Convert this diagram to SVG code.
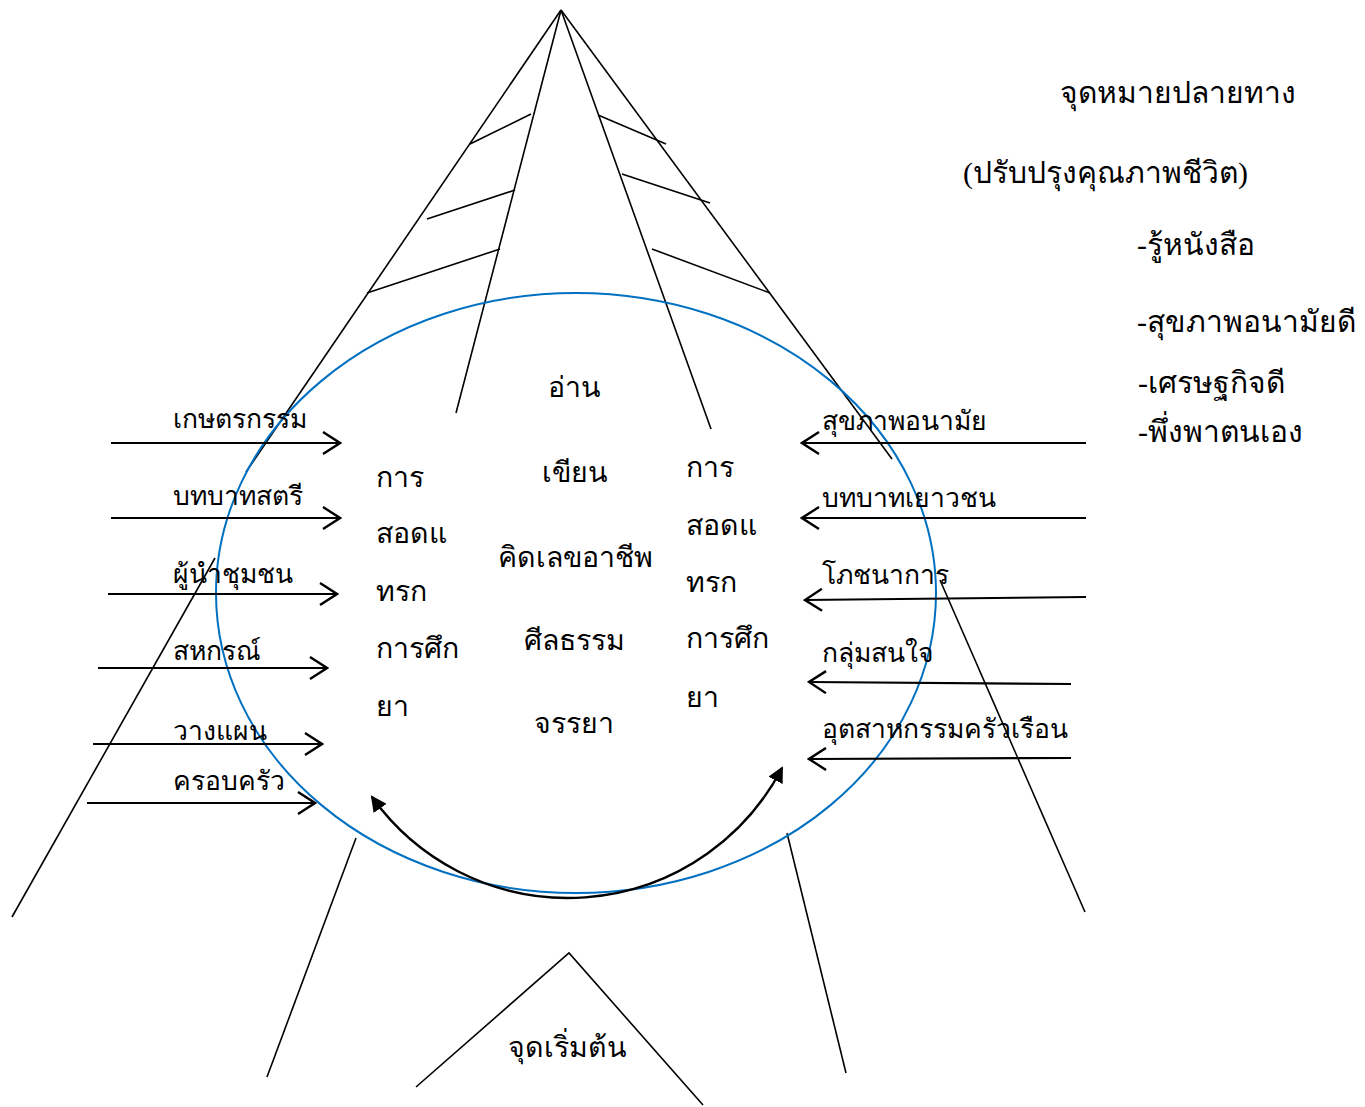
<svg xmlns="http://www.w3.org/2000/svg" width="1365" height="1107" viewBox="0 0 1365 1107">
<style>
.ln{stroke:#000;stroke-width:1.6;fill:none}
.ar{stroke:#000;stroke-width:2.2;fill:none;marker-end:url(#open)}
.t{font-family:"Liberation Serif","Noto Sans",serif;font-size:28.5px;fill:#000}
.lb{font-size:26.5px}
.g{font-size:30px}
.c{text-anchor:middle}
</style>
<defs>
<marker id="open" viewBox="0 0 20 24" refX="18" refY="12" markerWidth="20" markerHeight="24" markerUnits="userSpaceOnUse" orient="auto">
<path d="M1 1 L18 12 L1 23" fill="none" stroke="#000" stroke-width="2.4"/>
</marker>
<marker id="solid" viewBox="0 0 16 16" refX="14" refY="8" markerWidth="16" markerHeight="16" markerUnits="userSpaceOnUse" orient="auto-start-reverse">
<path d="M0 0 L16 8 L0 16 Z" fill="#000"/>
</marker>
</defs>
<rect width="1365" height="1107" fill="#fff"/>
<g id="structure">
<line class="ln" x1="561" y1="10" x2="246" y2="472"/>
<line class="ln" x1="215" y1="558" x2="12" y2="917"/>
<line class="ln" x1="561" y1="10" x2="892" y2="459"/>
<line class="ln" x1="940" y1="580" x2="1085" y2="912"/>
<line class="ln" x1="561" y1="10" x2="456" y2="413"/>
<line class="ln" x1="561" y1="10" x2="711" y2="429"/>
<line class="ln" x1="470" y1="144" x2="531" y2="114"/>
<line class="ln" x1="427" y1="219" x2="515" y2="190"/>
<line class="ln" x1="367" y1="293" x2="500" y2="249"/>
<line class="ln" x1="598" y1="115" x2="666" y2="144"/>
<line class="ln" x1="622" y1="174" x2="710" y2="203"/>
<line class="ln" x1="652" y1="249" x2="770" y2="293"/>
<line class="ln" x1="356" y1="838" x2="267" y2="1077"/>
<line class="ln" x1="787" y1="833" x2="846" y2="1073"/>
<polyline class="ln" points="416,1087 569,953 703,1105"/>
</g>
<g id="cycle">
<ellipse cx="576" cy="593" rx="360" ry="300" fill="none" stroke="#0070C0" stroke-width="2"/>
<path d="M372 797 A241 241 0 0 0 782 768" fill="none" stroke="#000" stroke-width="2.4" marker-start="url(#solid)" marker-end="url(#solid)"/>
</g>
<g id="connectors">
<line class="ar" x1="111" y1="443" x2="340" y2="443"/>
<line class="ar" x1="111" y1="518" x2="340" y2="518"/>
<line class="ar" x1="108" y1="594" x2="337" y2="594"/>
<line class="ar" x1="98" y1="668" x2="327" y2="668"/>
<line class="ar" x1="93" y1="744" x2="322" y2="744"/>
<line class="ar" x1="87" y1="803" x2="315" y2="803"/>
<line class="ar" x1="1086" y1="443" x2="802" y2="443"/>
<line class="ar" x1="1086" y1="518" x2="802" y2="518"/>
<line class="ar" x1="1086" y1="597" x2="805" y2="600"/>
<line class="ar" x1="1071" y1="684" x2="809" y2="682"/>
<line class="ar" x1="1071" y1="758" x2="809" y2="759"/>
</g>
<g id="left-labels" class="t lb">
<text x="173" y="428">เกษตรกรรม</text>
<text x="173" y="505">บทบาทสตรี</text>
<text x="173" y="583">ผู้นำชุมชน</text>
<text x="173" y="660">สหกรณ์</text>
<text x="173" y="740">วางแผน</text>
<text x="173" y="790">ครอบครัว</text>
</g>
<g id="right-labels" class="t lb">
<text x="822" y="430">สุขภาพอนามัย</text>
<text x="822" y="507">บทบาทเยาวชน</text>
<text x="822" y="584">โภชนาการ</text>
<text x="822" y="662">กลุ่มสนใจ</text>
<text x="822" y="738">อุตสาหกรรมครัวเรือน</text>
</g>
<g id="center-text" class="t c">
<text x="574" y="397">อ่าน</text>
<text x="574" y="482">เขียน</text>
<text x="575" y="567">คิดเลขอาชีพ</text>
<text x="574" y="650">ศีลธรรม</text>
<text x="574" y="733">จรรยา</text>
</g>
<g id="left-column" class="t">
<text x="376" y="487">การ</text>
<text x="376" y="543">สอดแ</text>
<text x="376" y="601">ทรก</text>
<text x="376" y="658">การศึก</text>
<text x="376" y="716">ยา</text>
</g>
<g id="right-column" class="t">
<text x="686" y="477">การ</text>
<text x="686" y="535">สอดแ</text>
<text x="686" y="592">ทรก</text>
<text x="686" y="648">การศึก</text>
<text x="686" y="707">ยา</text>
</g>
<g id="goal" class="t g">
<text x="1060" y="103">จุดหมายปลายทาง</text>
<text x="963" y="183">(ปรับปรุงคุณภาพชีวิต)</text>
<text x="1137" y="255">-รู้หนังสือ</text>
<text x="1137" y="332">-สุขภาพอนามัยดี</text>
<text x="1138" y="393">-เศรษฐกิจดี</text>
<text x="1138" y="442">-พึ่งพาตนเอง</text>
</g>
<g id="start" class="t">
<text x="508" y="1057">จุดเริ่มต้น</text>
</g>
</svg>
